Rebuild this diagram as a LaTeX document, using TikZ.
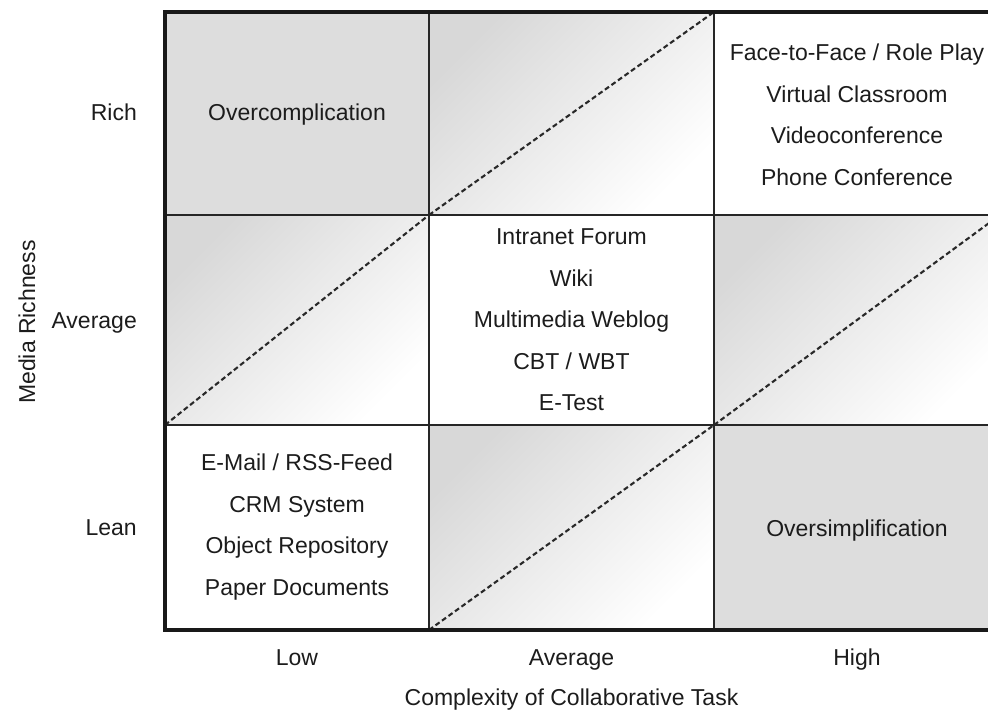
\documentclass[tikz,border=0pt]{standalone}
\usepackage{fontspec}
\setmainfont{Liberation Sans}
\definecolor{cellgray}{RGB}{221,221,221}
\definecolor{shadegray}{RGB}{216,216,216}
\definecolor{inkgray}{RGB}{28,28,28}
\definecolor{dashgray}{RGB}{40,40,40}
\begin{document}
\begin{tikzpicture}[x=1pt,y=-1pt,
  lbl/.style={font=\fontsize{23}{41.5}\selectfont, text=inkgray, align=center, inner sep=0pt},
  one/.style={lbl, anchor=base},
  darkcell/.style={fill=cellgray},
  fadecell/.style={shading=axis, top color=shadegray, bottom color=white, shading angle=45},
  gridline/.style={line width=1.4pt, draw=black!85},
  frameline/.style={line width=3.8pt, draw=black!90},
  diag/.style={line width=2.1pt, draw=dashgray, dash pattern=on 5pt off 3pt}]
\clip (0,0) rectangle (988,714);

% grid corners: columns x0..x3, rows y0..y3
\foreach \i/\x in {0/165,1/429,2/714,3/1000}
  \foreach \j/\y in {0/12,1/215,2/425,3/630}
    \coordinate (c\i\j) at (\x,\y);

% cell fills
\fill[darkcell] (c00) rectangle (c11);
\fill[fadecell] (c10) rectangle (c21);
\fill[fadecell] (c01) rectangle (c12);
\fill[fadecell] (c21) rectangle (c32);
\fill[fadecell] (c12) rectangle (c23);
\fill[darkcell] (c22) rectangle (c33);

% diagonals through the shaded cells
\draw[diag] (c11) -- (c20);
\draw[diag] (c02) -- (c11);
\draw[diag] (c22) -- (c31);
\draw[diag] (c13) -- (c22);

% inner grid lines
\draw[gridline] (c10) -- (c13);
\draw[gridline] (c20) -- (c23);
\draw[gridline] (c01) -- (c31);
\draw[gridline] (c02) -- (c32);

% outer frame
\draw[frameline] (c30) -- (c00) -- (c03) -- (c33);

% cell contents
\node[one] (over) at (297,121) {Overcomplication};
\node[lbl] (rich) at (857,115) {Face-to-Face / Role Play\\Virtual Classroom\\Videoconference\\Phone Conference};
\node[lbl] (mid) at (571.5,320) {Intranet Forum\\Wiki\\Multimedia Weblog\\CBT / WBT\\E-Test};
\node[lbl] (lean) at (297,527) {E-Mail / RSS-Feed\\CRM System\\Object Repository\\Paper Documents};
\node[one] (under) at (857,536) {Oversimplification};

% vertical axis
\node[one, anchor=base east] (yrich) at (137,121) {Rich};
\node[one, anchor=base east] (yavg) at (137,328) {Average};
\node[one, anchor=base east] (ylean) at (137,535) {Lean};
\node[lbl, rotate=90] (ytitle) at (27,322) {Media Richness};

% horizontal axis
\node[one] (xlow) at (297,665) {Low};
\node[one] (xavg) at (571.5,665) {Average};
\node[one] (xhigh) at (857,665) {High};
\node[one] (xtitle) at (571.5,705) {Complexity of Collaborative Task};
\end{tikzpicture}
\end{document}
